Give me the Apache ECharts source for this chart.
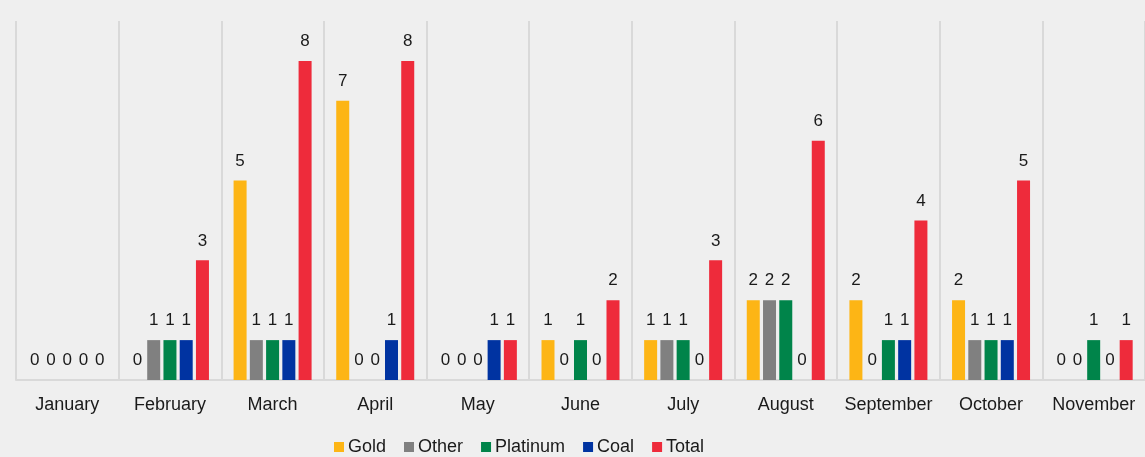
<!DOCTYPE html>
<html>
<head>
<meta charset="utf-8">
<script src="https://cdn.jsdelivr.net/npm/echarts@6/dist/echarts.min.js"></script>
<style>
  html, body { margin: 0; padding: 0; background: #efefef; }
  #chart { width: 1145px; height: 457px; }
</style>
</head>
<body>
<div id="chart"></div>
<script>
// months on the x axis
var months = ['January', 'February', 'March', 'April', 'May', 'June', 'July', 'August', 'September', 'October', 'November'];

// counts per month
var gold     = [0, 0, 5, 7, 0, 1, 1, 2, 2, 2, 0];
var other    = [0, 1, 1, 0, 0, 0, 1, 2, 0, 1, 0];
var platinum = [0, 1, 1, 0, 0, 1, 1, 2, 1, 1, 1];
var coal     = [0, 1, 1, 1, 1, 0, 0, 0, 1, 1, 0];
var total    = [0, 3, 8, 8, 1, 2, 3, 6, 4, 5, 1];

var font = 'Liberation Sans, Arial, sans-serif';

function makeSeries(name, data, color) {
    return {
        name: name,
        type: 'bar',
        data: data,
        barWidth: 13,
        barGap: '25%',
        itemStyle: { color: color },
        label: {
            show: true,
            position: 'top',
            distance: 11,
            fontSize: 17,
            fontFamily: font,
            color: '#1a1a1a'
        }
    };
}

var myChart = echarts.init(document.getElementById('chart'));
var option = {
    backgroundColor: '#efefef',
    animation: false,
    grid: { left: 16, top: 21, width: 1131, height: 359 },
    legend: {
        bottom: -4,
        left: 329,
        itemWidth: 10,
        itemHeight: 10,
        itemGap: 18,
        icon: 'rect',
        textStyle: { fontSize: 18, fontFamily: font, color: '#1a1a1a', padding: [0, 0, 0, -1] }
    },
    xAxis: {
        type: 'category',
        data: months,
        axisLine: { lineStyle: { color: '#d9d9d9', width: 2 } },
        axisTick: { show: false },
        splitLine: { show: true, interval: 0, lineStyle: { color: '#d9d9d9', width: 2 } },
        axisLabel: { interval: 0, fontSize: 18, fontFamily: font, color: '#1a1a1a', margin: 16 }
    },
    yAxis: {
        type: 'value',
        min: 0,
        max: 9,
        show: false,
        splitLine: { show: false }
    },
    series: [
        makeSeries('Gold', gold, '#fdb515'),
        makeSeries('Other', other, '#808080'),
        makeSeries('Platinum', platinum, '#00844a'),
        makeSeries('Coal', coal, '#0033a1'),
        makeSeries('Total', total, '#ee2b3b')
    ]
};
myChart.setOption(option);
</script>
</body>
</html>
